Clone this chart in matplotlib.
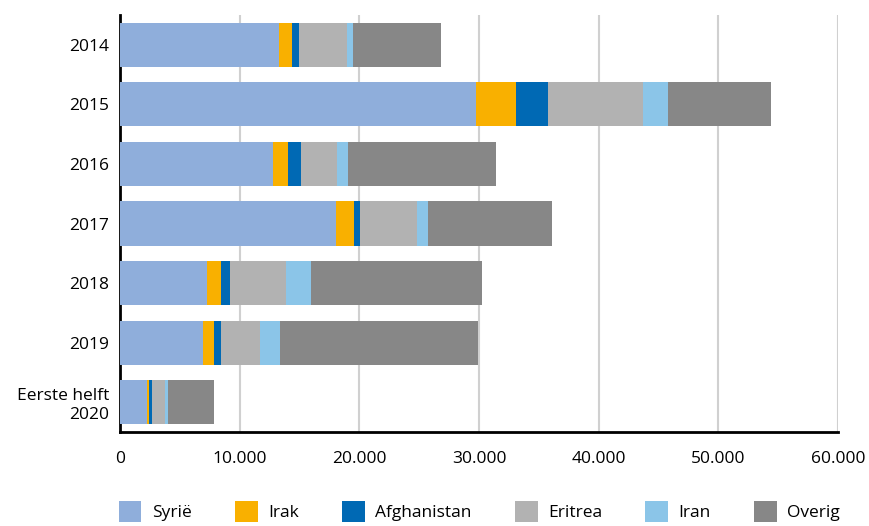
import matplotlib
matplotlib.use("Agg")
import matplotlib.pyplot as plt
from matplotlib.ticker import FuncFormatter
import numpy as np

plt.rcParams['font.family'] = ['Open Sans', 'DejaVu Sans']

categories = ["2014", "2015", "2016", "2017", "2018", "2019", "Eerste helft\n2020"]
series_names = ["Syrië", "Irak", "Afghanistan", "Eritrea", "Iran", "Overig"]
syrie = [13300, 29770, 12770, 18020, 7240, 6970, 2220]
irak = [1060, 3350, 1260, 1540, 1180, 860, 170]
afghanistan = [590, 2680, 1090, 500, 750, 590, 250]
eritrea = [4020, 7870, 3010, 4770, 4690, 3240, 1090]
iran = [500, 2100, 920, 920, 2090, 1700, 250]
overig = [7370, 8620, 12400, 10390, 14330, 16580, 3850]
colors = ["#8FAEDB", "#F9B000", "#0069B4", "#B2B2B2", "#8BC5E8", "#878787"]

fig = plt.figure(figsize=(8.7, 5.26), dpi=100)
ax = fig.add_axes([120/870, 1-432/526, 718/870, 417/526])

y = np.arange(len(categories))
left = np.zeros(len(categories))
for name, vals, c in zip(series_names, [syrie, irak, afghanistan, eritrea, iran, overig], colors):
    ax.barh(y, vals, left=left, height=0.74, color=c, label=name, zorder=3)
    left += np.array(vals)

ax.set_ylim(len(categories) - 0.5, -0.5)
ax.set_xlim(0, 60000)
ax.set_yticks(y)
ax.set_yticklabels(categories, fontsize=12.5)
ax.set_xticks(np.arange(0, 60001, 10000))
ax.xaxis.set_major_formatter(FuncFormatter(lambda v, p: f"{int(v):,}".replace(",", ".")))
ax.tick_params(axis='x', labelsize=12.5, length=0, pad=14)
ax.tick_params(axis='y', length=0, pad=8)
ax.grid(axis='x', color='#D0D0D0', linewidth=1.5, zorder=0)
for s in ['top', 'right']:
    ax.spines[s].set_visible(False)
ax.spines['left'].set_linewidth(2)
ax.spines['bottom'].set_linewidth(2)
ax.spines['left'].set_color('black')
ax.spines['bottom'].set_color('black')

fig.legend(loc='lower center', ncol=6, frameon=False, fontsize=12.5,
           bbox_to_anchor=(0.551, -0.022), handlelength=1.3, handleheight=1.5,
           columnspacing=2.5, handletextpad=0.6)

fig.savefig("out.png", dpi=100)
